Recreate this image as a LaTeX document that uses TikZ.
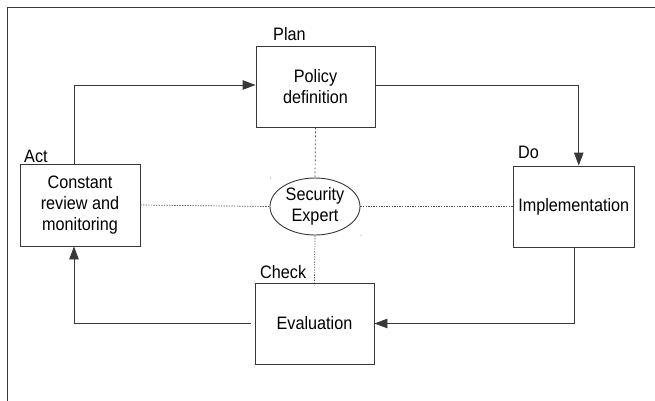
\documentclass[tikz,border=0pt]{standalone}
\usepackage{fontspec}
\setmainfont{Liberation Sans}[FakeStretch=0.9]
\usetikzlibrary{arrows.meta,shapes.geometric}

\tikzset{
  line/.style={draw=black!78, line width=0.9pt},
  stage/.style={line, rectangle, fill=white, align=center, inner sep=2pt,
                minimum width=119pt, minimum height=81pt, font=\fontsize{18}{21}\selectfont},
  hub/.style={line, ellipse, fill=white, align=center, inner sep=0pt,
              minimum width=90pt, minimum height=57pt, font=\fontsize{18}{21}\selectfont},
  phase/.style={anchor=base west, inner sep=0pt, font=\fontsize{18}{21}\selectfont},
  flow/.style={line, -{Triangle[length=13pt,width=9.5pt]}},
  link/.style={draw=black!70, line width=0.7pt, dash pattern=on 1.3pt off 1.3pt},
}

\begin{document}
\begin{tikzpicture}[x=1pt,y=-1pt]
  \useasboundingbox (0,0) rectangle (655,400);
  \clip (0,0) rectangle (655,400);

  % outer frame
  \draw[line] (7.5,7) rectangle (670,420);

  % the four PDCA stages and the central role
  \node[stage] (plan) at (315.5,86.5) {Policy\\definition};
  \node[stage, minimum width=120pt, minimum height=82pt] (act) at (80,205) {Constant\\review and\\monitoring};
  \node[stage, minimum width=121.5pt] (do) at (573.75,206.5) {Implementation};
  \node[stage] (eval) at (314.5,323.5) {Evaluation};
  \node[hub] (sec) at (315,206.5) {Security\\Expert};

  % phase captions
  \node[phase] (lplan)  at (273,40)  {Plan};
  \node[phase] (lact)   at (24,162)  {Act};
  \node[phase] (ldo)    at (518,158) {Do};
  \node[phase] (lcheck) at (260,278) {Check};

  % cycle
  \draw[flow] ([xshift=-6pt]act.north) |- ([yshift=1.5pt]plan.west);
  \draw[flow] ([yshift=1.5pt]plan.east) -| ([xshift=5pt]do.north);
  \draw[flow] ([xshift=1pt]do.south) |- (eval.east);
  \draw[flow] ([xshift=-4pt]eval.west) -| ([xshift=-6pt]act.south);

  % links to the security expert
  \draw[link, dash pattern=on 2pt off 2pt] (plan.south) -- (sec.north);
  \draw[link] (sec.south) -- (eval.north);
  \draw[link] (act.east) -- (sec.west);
  \draw[link] (sec.east) -- (do.west);

  % corner marks of the ellipse frame
  \fill[black!60] (270.7,178) circle (0.5);
  \fill[black!60] (361,235) circle (0.5);
\end{tikzpicture}
\end{document}
